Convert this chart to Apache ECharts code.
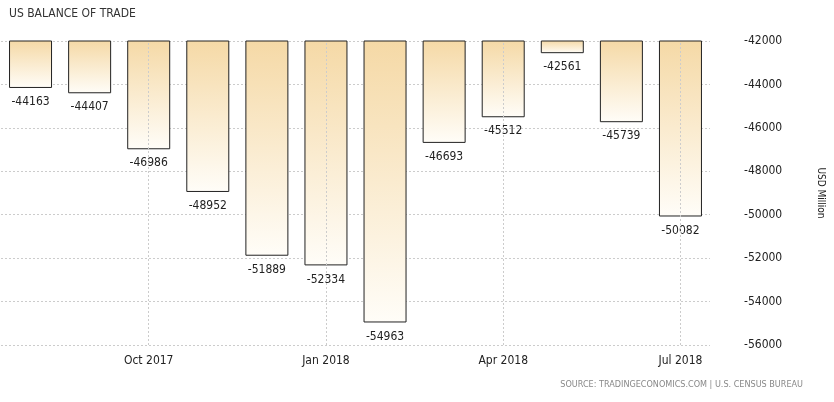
<!DOCTYPE html>
<html>
<head>
<meta charset="UTF-8">
<title>US Balance of Trade</title>
<script src="https://cdn.jsdelivr.net/npm/echarts@6/dist/echarts.min.js"></script>
<style>
    body{margin:0;background:#fff;}
    #chart{width:834px;height:402px;}
</style>
</head>
<body>
<div id="chart"></div>
<script>
    var months = ['Aug 2017','Sep 2017','Oct 2017','Nov 2017','Dec 2017','Jan 2018','Feb 2018','Mar 2018','Apr 2018','May 2018','Jun 2018','Jul 2018'];
    var balance = [-44163,-44407,-46986,-48952,-51889,-52334,-54963,-46693,-45512,-42561,-45739,-50082];
    var shownMonths = ['Oct 2017','Jan 2018','Apr 2018','Jul 2018'];

    var chart = echarts.init(document.getElementById('chart'));
    var txt = '#222';
    chart.setOption({
        animation: false,
        textStyle: {fontFamily: 'DejaVu Sans Condensed, DejaVu Sans, sans-serif'},
        title: [
            {text: 'US BALANCE OF TRADE', left: 4, top: 3, textStyle: {fontSize: 12, fontWeight: 'normal', color: '#333'}},
            {text: 'SOURCE: TRADINGECONOMICS.COM | U.S. CENSUS BUREAU', right: 26, bottom: 8, textStyle: {fontSize: 9, fontWeight: 'normal', color: '#888'}}
        ],
        grid: {left: 1, right: 124, top: 41, bottom: 57},
        xAxis: {
            type: 'category',
            data: months,
            axisLine: {show: false},
            axisTick: {show: false},
            axisLabel: {
                color: txt, fontSize: 12, margin: 10,
                interval: function (i, v) { return shownMonths.indexOf(v) >= 0; }
            }
        },
        yAxis: {
            type: 'value',
            position: 'right',
            min: -56000, max: -42000, interval: 2000,
            name: 'USD Million',
            nameLocation: 'middle',
            nameRotate: -90,
            nameGap: 106,
            nameTextStyle: {color: txt, fontSize: 10},
            axisLine: {show: false},
            axisTick: {show: false},
            axisLabel: {color: txt, fontSize: 12, margin: 34, formatter: function (v) { return String(v); }},
            splitLine: {lineStyle: {color: '#ccc', type: [2, 2]}}
        },
        series: [{
            type: 'bar',
            data: balance,
            barWidth: 43,
            itemStyle: {
                borderColor: '#222', borderWidth: 1,
                color: new echarts.graphic.LinearGradient(0, 0, 0, 1, [
                    {offset: 0, color: '#f5d9a6'},
                    {offset: 1, color: '#fffdf8'}
                ])
            },
            label: {show: true, position: 'bottom', distance: 8, color: txt, fontSize: 12},
            markLine: {
                silent: true,
                symbol: 'none',
                label: {show: false},
                lineStyle: {color: '#ccc', type: [2, 2], width: 1},
                data: shownMonths.map(function (m) { return {xAxis: m}; })
            }
        }]
    });
</script>
</body>
</html>
